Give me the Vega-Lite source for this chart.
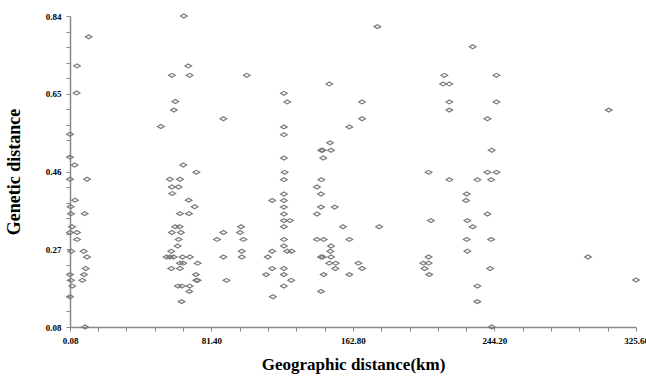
{
  "$schema": "https://vega.github.io/schema/vega-lite/v6.json",
  "width": 566,
  "height": 311,
  "autosize": {"type": "none"},
  "padding": {"left": 70, "top": 16, "right": 10, "bottom": 51},
  "background": "white",
  "config": {"view": {"stroke": null}},
  "data": {"values": [
    {"geo": 10.81, "gen": 0.789}, {"geo": 4.12, "gen": 0.718}, {"geo": 3.89, "gen": 0.652}, {"geo": 0.08, "gen": 0.551},
    {"geo": 0.08, "gen": 0.495}, {"geo": 2.73, "gen": 0.476}, {"geo": 0.08, "gen": 0.441}, {"geo": 9.88, "gen": 0.441},
    {"geo": 2.96, "gen": 0.390}, {"geo": 0.43, "gen": 0.374}, {"geo": 0.66, "gen": 0.357}, {"geo": 8.5, "gen": 0.357},
    {"geo": 1.23, "gen": 0.325}, {"geo": 0.08, "gen": 0.311}, {"geo": 4.12, "gen": 0.311}, {"geo": 4.12, "gen": 0.294},
    {"geo": 0.83, "gen": 0.265}, {"geo": 7.92, "gen": 0.265}, {"geo": 9.88, "gen": 0.251}, {"geo": 9.08, "gen": 0.223},
    {"geo": 0.08, "gen": 0.208}, {"geo": 8.15, "gen": 0.208}, {"geo": 0.66, "gen": 0.194}, {"geo": 7.17, "gen": 0.194},
    {"geo": 1.41, "gen": 0.180}, {"geo": 0.08, "gen": 0.154}, {"geo": 8.73, "gen": 0.080},
    {"geo": 65.59, "gen": 0.840}, {"geo": 68.13, "gen": 0.718}, {"geo": 58.67, "gen": 0.695}, {"geo": 68.88, "gen": 0.695},
    {"geo": 60.63, "gen": 0.631}, {"geo": 59.83, "gen": 0.610}, {"geo": 52.33, "gen": 0.570}, {"geo": 65.25, "gen": 0.476},
    {"geo": 72.74, "gen": 0.458}, {"geo": 57.52, "gen": 0.441}, {"geo": 63.29, "gen": 0.441}, {"geo": 58.67, "gen": 0.422},
    {"geo": 62.54, "gen": 0.422}, {"geo": 58.9, "gen": 0.406}, {"geo": 68.3, "gen": 0.390}, {"geo": 71.76, "gen": 0.374},
    {"geo": 63.29, "gen": 0.357}, {"geo": 68.48, "gen": 0.357}, {"geo": 60.63, "gen": 0.325}, {"geo": 63.11, "gen": 0.325},
    {"geo": 58.67, "gen": 0.311}, {"geo": 63.86, "gen": 0.311}, {"geo": 62.54, "gen": 0.294}, {"geo": 61.96, "gen": 0.278},
    {"geo": 58.33, "gen": 0.265}, {"geo": 55.62, "gen": 0.251}, {"geo": 57.52, "gen": 0.251}, {"geo": 59.65, "gen": 0.251},
    {"geo": 64.84, "gen": 0.251}, {"geo": 69.05, "gen": 0.251}, {"geo": 63.29, "gen": 0.236}, {"geo": 65.25, "gen": 0.236},
    {"geo": 73.49, "gen": 0.236}, {"geo": 58.33, "gen": 0.223}, {"geo": 63.29, "gen": 0.223}, {"geo": 72.51, "gen": 0.208},
    {"geo": 72.74, "gen": 0.194}, {"geo": 73.49, "gen": 0.194}, {"geo": 62.13, "gen": 0.180}, {"geo": 64.44, "gen": 0.180},
    {"geo": 68.88, "gen": 0.180}, {"geo": 68.71, "gen": 0.167}, {"geo": 64.27, "gen": 0.142},
    {"geo": 84.62, "gen": 0.294}, {"geo": 88.31, "gen": 0.589}, {"geo": 101.75, "gen": 0.695}, {"geo": 98.46, "gen": 0.325},
    {"geo": 88.31, "gen": 0.311}, {"geo": 97.89, "gen": 0.311}, {"geo": 99.85, "gen": 0.294}, {"geo": 98.87, "gen": 0.265},
    {"geo": 88.31, "gen": 0.251}, {"geo": 98.87, "gen": 0.251}, {"geo": 90.05, "gen": 0.194},
    {"geo": 123.09, "gen": 0.651}, {"geo": 125.0, "gen": 0.630}, {"geo": 123.09, "gen": 0.569}, {"geo": 123.09, "gen": 0.550},
    {"geo": 123.09, "gen": 0.493}, {"geo": 123.5, "gen": 0.458}, {"geo": 123.09, "gen": 0.440}, {"geo": 123.09, "gen": 0.405},
    {"geo": 116.34, "gen": 0.389}, {"geo": 123.09, "gen": 0.389}, {"geo": 123.09, "gen": 0.373}, {"geo": 123.09, "gen": 0.356},
    {"geo": 123.09, "gen": 0.340}, {"geo": 126.55, "gen": 0.340}, {"geo": 123.09, "gen": 0.325}, {"geo": 123.09, "gen": 0.294},
    {"geo": 123.09, "gen": 0.278}, {"geo": 116.34, "gen": 0.265}, {"geo": 125.0, "gen": 0.265}, {"geo": 127.53, "gen": 0.265},
    {"geo": 113.86, "gen": 0.251}, {"geo": 116.34, "gen": 0.223}, {"geo": 123.09, "gen": 0.223}, {"geo": 112.88, "gen": 0.208},
    {"geo": 123.09, "gen": 0.208}, {"geo": 127.3, "gen": 0.194}, {"geo": 123.09, "gen": 0.180}, {"geo": 116.75, "gen": 0.154},
    {"geo": 176.89, "gen": 0.814}, {"geo": 149.21, "gen": 0.674}, {"geo": 168.07, "gen": 0.630}, {"geo": 168.07, "gen": 0.589},
    {"geo": 160.74, "gen": 0.569}, {"geo": 149.62, "gen": 0.530}, {"geo": 144.6, "gen": 0.512}, {"geo": 145.41, "gen": 0.512},
    {"geo": 150.19, "gen": 0.512}, {"geo": 145.75, "gen": 0.493}, {"geo": 144.6, "gen": 0.440}, {"geo": 142.12, "gen": 0.422},
    {"geo": 144.43, "gen": 0.405}, {"geo": 144.43, "gen": 0.373}, {"geo": 152.33, "gen": 0.373}, {"geo": 142.12, "gen": 0.356},
    {"geo": 157.11, "gen": 0.325}, {"geo": 177.87, "gen": 0.325}, {"geo": 142.12, "gen": 0.294}, {"geo": 145.98, "gen": 0.294},
    {"geo": 160.74, "gen": 0.294}, {"geo": 150.19, "gen": 0.278}, {"geo": 149.79, "gen": 0.265}, {"geo": 144.43, "gen": 0.251},
    {"geo": 145.41, "gen": 0.251}, {"geo": 150.19, "gen": 0.251}, {"geo": 149.21, "gen": 0.236}, {"geo": 152.9, "gen": 0.236},
    {"geo": 165.93, "gen": 0.236}, {"geo": 152.67, "gen": 0.223}, {"geo": 168.07, "gen": 0.223}, {"geo": 145.98, "gen": 0.208},
    {"geo": 160.74, "gen": 0.208}, {"geo": 144.43, "gen": 0.167},
    {"geo": 231.68, "gen": 0.765}, {"geo": 215.36, "gen": 0.695}, {"geo": 245.34, "gen": 0.695}, {"geo": 214.61, "gen": 0.674},
    {"geo": 218.24, "gen": 0.674}, {"geo": 218.24, "gen": 0.630}, {"geo": 245.34, "gen": 0.630}, {"geo": 218.24, "gen": 0.610},
    {"geo": 240.16, "gen": 0.589}, {"geo": 242.63, "gen": 0.512}, {"geo": 206.3, "gen": 0.458}, {"geo": 240.16, "gen": 0.458},
    {"geo": 245.34, "gen": 0.458}, {"geo": 218.24, "gen": 0.440}, {"geo": 234.39, "gen": 0.440}, {"geo": 242.29, "gen": 0.440},
    {"geo": 228.22, "gen": 0.405}, {"geo": 227.87, "gen": 0.389}, {"geo": 240.16, "gen": 0.356}, {"geo": 207.69, "gen": 0.340},
    {"geo": 228.62, "gen": 0.340}, {"geo": 231.68, "gen": 0.325}, {"geo": 228.22, "gen": 0.294}, {"geo": 242.29, "gen": 0.294},
    {"geo": 228.62, "gen": 0.265}, {"geo": 206.3, "gen": 0.251}, {"geo": 203.25, "gen": 0.236}, {"geo": 206.3, "gen": 0.236},
    {"geo": 204.0, "gen": 0.223}, {"geo": 241.71, "gen": 0.223}, {"geo": 206.71, "gen": 0.208}, {"geo": 234.39, "gen": 0.180},
    {"geo": 234.39, "gen": 0.142}, {"geo": 242.63, "gen": 0.080},
    {"geo": 309.94, "gen": 0.610}, {"geo": 298.0, "gen": 0.251}, {"geo": 325.6, "gen": 0.195}
  ]},
  "mark": {
    "type": "point",
    "shape": "M-1,0L0,-0.6L1,0L0,0.6Z",
    "filled": false,
    "stroke": "#7a7a7a",
    "strokeWidth": 1.2,
    "size": 44,
    "opacity": 1,
    "clip": false
  },
  "encoding": {
    "x": {
      "field": "geo",
      "type": "quantitative",
      "scale": {"domain": [0.08, 325.6], "nice": false, "zero": false},
      "axis": {
        "title": "Geographic distance(km)",
        "values": [0.08, 16.28, 32.56, 48.84, 65.12, 81.4, 97.68, 113.96, 130.24, 146.52, 162.8, 179.08, 195.36, 211.64, 227.92, 244.2, 260.48, 276.76, 293.04, 309.32, 325.6],
        "labelExpr": "(abs(datum.value - 0.08) < 0.01 || abs(datum.value / 81.4 - round(datum.value / 81.4)) < 0.001) ? format(datum.value, '.2f') : ''",
        "labelOverlap": false,
        "labelFlush": false,
        "labelFont": "Liberation Serif",
        "labelFontWeight": "bold",
        "labelFontSize": 9,
        "labelColor": "#000",
        "labelPadding": 5,
        "tickSize": 4,
        "tickColor": "#888",
        "tickWidth": 1,
        "domainColor": "#888",
        "domainWidth": 1.5,
        "grid": false,
        "titleFont": "Liberation Serif",
        "titleFontWeight": "bold",
        "titleFontSize": 17,
        "titleColor": "#000",
        "titlePadding": 11
      }
    },
    "y": {
      "field": "gen",
      "type": "quantitative",
      "scale": {"domain": [0.08, 0.84], "nice": false, "zero": false},
      "axis": {
        "title": "Genetic distance",
        "values": [0.08, 0.118, 0.156, 0.194, 0.232, 0.27, 0.308, 0.346, 0.384, 0.422, 0.46, 0.498, 0.536, 0.574, 0.612, 0.65, 0.688, 0.726, 0.764, 0.802, 0.84],
        "labelExpr": "abs((datum.value - 0.08) / 0.19 - round((datum.value - 0.08) / 0.19)) < 0.01 ? format(datum.value, '.2f') : ''",
        "labelOverlap": false,
        "labelFlush": false,
        "labelFont": "Liberation Serif",
        "labelFontWeight": "bold",
        "labelFontSize": 9,
        "labelColor": "#000",
        "labelPadding": 5,
        "tickSize": 4,
        "tickColor": "#888",
        "tickWidth": 1,
        "domainColor": "#888",
        "domainWidth": 1.5,
        "grid": false,
        "titleFont": "Liberation Serif",
        "titleFontWeight": "bold",
        "titleFontSize": 18,
        "titleColor": "#000",
        "titlePadding": 22
      }
    }
  }
}
